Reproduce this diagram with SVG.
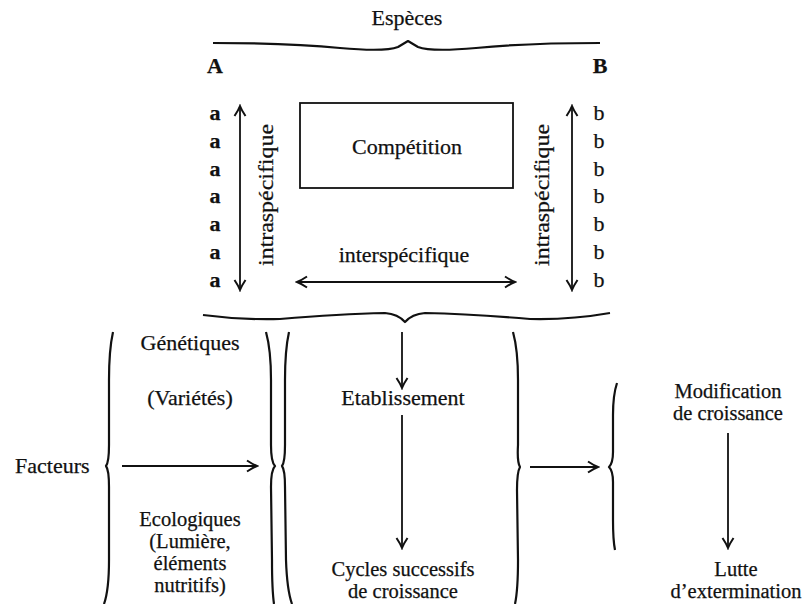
<svg xmlns="http://www.w3.org/2000/svg" width="808" height="604" viewBox="0 0 808 604">
<style>
text{font-family:"Liberation Serif","Times New Roman",serif;font-size:22px;fill:#111;stroke:#111;stroke-width:0.25}
.c{text-anchor:middle}
.bd{font-weight:bold}
.s{font-size:20.5px}
.ln{fill:none;stroke:#111;stroke-width:1.8}
.br{fill:none;stroke:#111;stroke-width:2.2;stroke-linejoin:round}
</style>
<defs>
<marker id="ah" viewBox="-12 -7 14 14" refX="0" refY="0" markerWidth="14" markerHeight="14" markerUnits="userSpaceOnUse" orient="auto-start-reverse">
<path d="M-10,-5.5 Q-4,-1.5 0,0 Q-4,1.5 -10,5.5" fill="none" stroke="#111" stroke-width="2"/>
</marker>
</defs>
<rect width="808" height="604" fill="#fff"/>

<g id="braces">
<path class="br" d="M213,43 Q290,43 340,48 Q385,52 398,47 L408,41 L418,47 Q431,52 476,48 Q526,43 600,43"/>
<path class="br" d="M203,315 Q240,320 280,319 Q340,314 385,313 Q398,314 405,322 Q412,314 425,313 Q470,314 530,319 Q570,320 610,313"/>
<path class="br" d="M113,332 Q109,350 109,380 L109,445 Q109,462 106,466 Q109,470 109,487 L109,560 Q109,590 104,604"/>
<path class="br" d="M266,332 Q271,350 271,380 L271,445 Q271,462 275,466 Q271,470 271,487 L272,560 Q272,590 274,604"/>
<path class="br" d="M289,332 Q285,350 285,380 L285,445 Q285,462 282,466 Q285,470 285,487 L286,560 Q287,590 292,604"/>
<path class="br" d="M513,332 Q518,350 518,380 L518,445 Q517,462 520,467 Q517,472 517,490 L518,560 Q518,590 515,604"/>
<path class="br" d="M617,383 Q613,395 613,415 L613,452 Q613,463 609,467 Q613,471 613,482 L613,520 Q613,540 615,550"/>
</g>

<g id="connectors">
<line class="ln" x1="240" y1="106" x2="240" y2="290" marker-start="url(#ah)" marker-end="url(#ah)"/>
<line class="ln" x1="572" y1="106" x2="572" y2="290" marker-start="url(#ah)" marker-end="url(#ah)"/>
<line class="ln" x1="297" y1="282" x2="515" y2="282" marker-start="url(#ah)" marker-end="url(#ah)"/>
<line class="ln" x1="402" y1="332" x2="402" y2="388" marker-end="url(#ah)"/>
<line class="ln" x1="402" y1="415" x2="402" y2="548" marker-end="url(#ah)"/>
<line class="ln" x1="122" y1="466" x2="257" y2="466" marker-end="url(#ah)"/>
<line class="ln" x1="530" y1="467" x2="598" y2="467" marker-end="url(#ah)"/>
<line class="ln" x1="728" y1="433" x2="728" y2="548" marker-end="url(#ah)"/>
</g>

<g id="especes"><text class="c" x="407" y="25">Espèces</text></g>
<g id="A"><text class="c bd" x="215" y="73">A</text></g>
<g id="B"><text class="c bd" x="600" y="73">B</text></g>
<g id="a-column">
<text class="c bd" x="215" y="120">a</text>
<text class="c bd" x="215" y="148">a</text>
<text class="c bd" x="215" y="176">a</text>
<text class="c bd" x="215" y="203">a</text>
<text class="c bd" x="215" y="231">a</text>
<text class="c bd" x="215" y="259">a</text>
<text class="c bd" x="215" y="287">a</text>
</g>
<g id="b-column">
<text class="c" x="599" y="120">b</text>
<text class="c" x="599" y="148">b</text>
<text class="c" x="599" y="176">b</text>
<text class="c" x="599" y="203">b</text>
<text class="c" x="599" y="231">b</text>
<text class="c" x="599" y="259">b</text>
<text class="c" x="599" y="287">b</text>
</g>
<g id="competition">
<rect x="300" y="103" width="213" height="85" fill="none" stroke="#111" stroke-width="1.8"/>
<text class="c" x="407" y="154">Compétition</text>
</g>
<g id="intra-left"><text class="c" transform="translate(273,195) rotate(-90)" x="0" y="0" textLength="142" lengthAdjust="spacingAndGlyphs">intraspécifique</text></g>
<g id="intra-right"><text class="c" transform="translate(549,195) rotate(-90)" x="0" y="0" textLength="142" lengthAdjust="spacingAndGlyphs">intraspécifique</text></g>
<g id="inter"><text class="c" x="404" y="262">interspécifique</text></g>
<g id="facteurs"><text x="15" y="473">Facteurs</text></g>
<g id="genetiques"><text class="c" x="190" y="350">Génétiques</text></g>
<g id="varietes"><text class="c" x="190" y="405">(Variétés)</text></g>
<g id="ecologiques">
<text class="c s" x="190" y="526">Ecologiques</text>
<text class="c s" x="190" y="548">(Lumière,</text>
<text class="c s" x="190" y="570">éléments</text>
<text class="c s" x="190" y="592">nutritifs)</text>
</g>
<g id="etablissement"><text class="c" x="403" y="405">Etablissement</text></g>
<g id="cycles">
<text class="c s" x="403" y="576">Cycles successifs</text>
<text class="c s" x="403" y="598">de croissance</text>
</g>
<g id="modification">
<text class="c s" x="728" y="398">Modification</text>
<text class="c s" x="728" y="420">de croissance</text>
</g>
<g id="lutte">
<text class="c s" x="736" y="576">Lutte</text>
<text class="c s" x="736" y="598">d’extermination</text>
</g>
</svg>
